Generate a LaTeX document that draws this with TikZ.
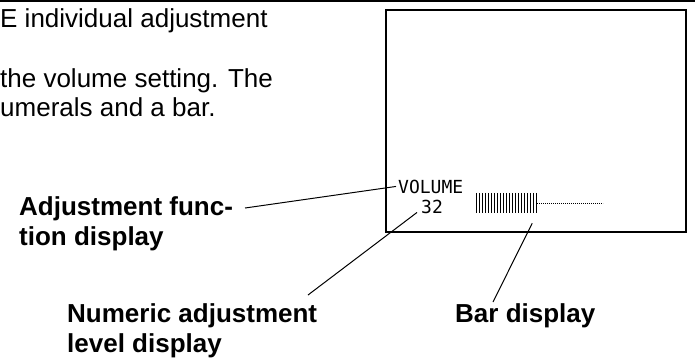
\documentclass[tikz,border=0pt]{standalone}
\usepackage{fontspec}
\setmainfont{Liberation Sans}
\newfontfamily\lcdfont{DejaVu Sans Mono}
\usetikzlibrary{positioning}

\begin{document}
\begin{tikzpicture}[x=1pt, y=-1pt,
  body/.style={font=\fontsize{26}{29}\selectfont, align=left, inner sep=0pt},
  lab/.style={body, font=\bfseries\fontsize{26}{30}\selectfont},
  lcd/.style={font=\lcdfont\fontsize{18}{18}\selectfont, inner sep=0pt},
  lead/.style={line width=1pt},
  tail/.style={line width=0.6pt, dash pattern=on 0.8pt off 1.2pt}]
\useasboundingbox (0,0) rectangle (695,357);
\draw[line width=2pt] (0,1) -- (695,1);
\node[body, anchor=base west] (intro) at (0,116) {E individual adjustment\\[31pt]the volume setting. The\\umerals and a bar.};
\node[draw, line width=1.2pt, minimum width=300pt, minimum height=222pt, inner sep=0pt] (screen) at (536,121) {};
\node[lcd, anchor=base west] (volume) at (398,193) {VOLUME};
\node[lcd, anchor=base west] (level) at (421,213) {32};
\node[minimum width=60pt, minimum height=20pt, inner sep=0pt] (bar) at (507,203) {};
\foreach \i in {0,...,20}
  \draw[line width=0.8pt] ([xshift=\i*3pt]bar.north west) -- ([xshift=\i*3pt]bar.south west);
\draw[tail] (bar.east) -- ++(66,0);
\node[lab, anchor=base west] (funclabel) at (19,245) {Adjustment func-\\tion display};
\node[lab, anchor=base west] (numlabel) at (67,352) {Numeric adjustment\\level display};
\node[lab, anchor=base west] (barlabel) at (455,322) {Bar display};
\coordinate (funcpt) at (245,208);
\coordinate (numpt) at (308,295);
\coordinate (barpt) at (493,302);
\draw[lead] (funcpt) -- ([xshift=-2pt]volume.west);
\draw[lead] (numpt) -- ([xshift=-4pt,yshift=1pt]level.south west);
\draw[lead] (barpt) -- ([xshift=-5pt,yshift=-10pt]bar.south east);
\end{tikzpicture}
\end{document}
